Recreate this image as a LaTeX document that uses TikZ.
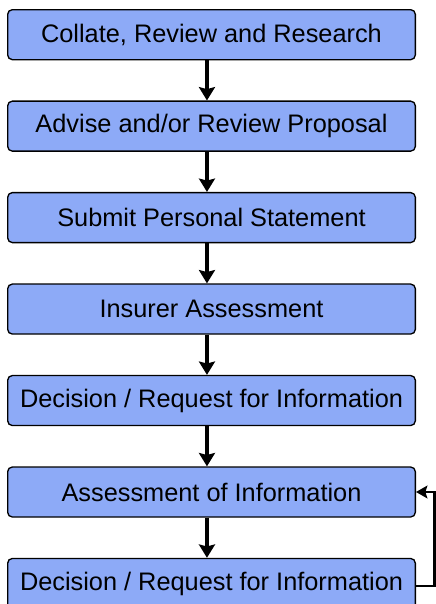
\documentclass[tikz,border=0pt]{standalone}
\usepackage{fontspec}
\setmainfont{Liberation Sans}
\usepackage{xcolor}
\usetikzlibrary{arrows.meta, positioning}

\definecolor{stepblue}{RGB}{141,170,247}

\begin{document}
\begin{tikzpicture}[
  node distance=30.1pt,
  box/.style={rectangle, rounded corners=3.5pt, draw=black, line width=1pt, fill=stepblue, minimum width=305.75pt, minimum height=37.5pt, inner sep=2pt, align=center, font=\fontsize{19pt}{22pt}\selectfont},
  arrow/.style={line width=2.6pt, -{Stealth[length=10pt, width=12pt, inset=1.5pt]}},
  back/.style={line width=1.8pt, -{Stealth[length=8.5pt, width=9.5pt, inset=1.5pt]}}
]
\useasboundingbox (0,0) rectangle (327pt,-453pt);

\node[box, anchor=north west] (collate) at (5.25pt,-6.75pt) {Collate, Review and Research};
\node[box, below=of collate] (advise) {Advise and/or Review Proposal};
\node[box, below=of advise] (submit) {Submit Personal Statement};
\node[box, below=of submit] (insurer) {Insurer Assessment};
\node[box, below=of insurer] (decide) {Decision / Request for Information};
\node[box, below=of decide] (assess) {Assessment of Information};
\node[box, below=of assess] (decide2) {Decision / Request for Information};

% steps down the chain
\foreach \a/\b in {collate/advise, advise/submit, submit/insurer, insurer/decide, decide/assess, assess/decide2}
  \draw[arrow] ([xshift=-3.4pt]\a.south) -- ([xshift=-3.4pt]\b.north);

% loop back for more information
\draw[back] ([yshift=-2pt]decide2.east) -- ++(14pt,0) |- (assess.east);
\end{tikzpicture}
\end{document}
